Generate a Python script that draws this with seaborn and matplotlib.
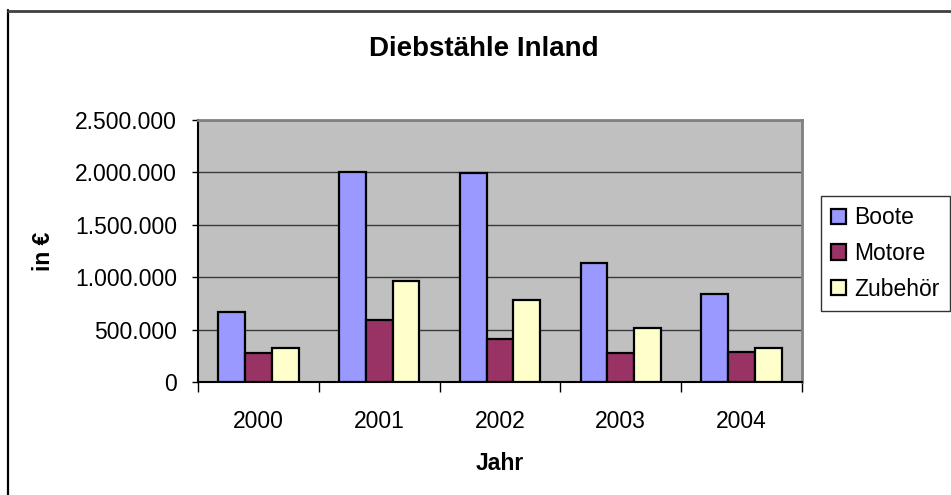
import matplotlib
matplotlib.use("Agg")
import matplotlib.pyplot as plt
import matplotlib.ticker as mticker
from matplotlib.lines import Line2D
import seaborn as sns
import pandas as pd

years = ["2000", "2001", "2002", "2003", "2004"]
boote = [665000, 2000000, 1995000, 1140000, 838000]
motore = [280000, 590000, 410000, 274000, 287000]
zubehoer = [325000, 968000, 780000, 519000, 322000]
series = ["Boote", "Motore", "Zubehör"]
colors = ["#9999FF", "#993366", "#FFFFCC"]
yticks = [0, 500000, 1000000, 1500000, 2000000, 2500000]

rows = []
for name, vals in zip(series, [boote, motore, zubehoer]):
    for y, v in zip(years, vals):
        rows.append({"Jahr": y, "Serie": name, "Wert": v})
df = pd.DataFrame(rows)

sns.set_style("white")
plt.rcParams["font.family"] = ["Liberation Sans", "DejaVu Sans"]
plt.rcParams["text.color"] = "black"
plt.rcParams["xtick.color"] = "black"
plt.rcParams["ytick.color"] = "black"
plt.rcParams["axes.labelcolor"] = "black"

W, H = 951, 495
fig = plt.figure(figsize=(W / 100, H / 100), dpi=100)
ax = fig.add_axes([198 / W, 1 - 382 / H, 604 / W, 262 / H])
ax.set_facecolor("#C0C0C0")

sns.barplot(data=df, x="Jahr", y="Wert", hue="Serie", order=years,
            hue_order=series, palette=colors, width=0.667, gap=0,
            edgecolor="black", linewidth=1.6, saturation=1, ax=ax,
            legend=True, zorder=3)

ax.set_ylim(0, 2500000)
ax.set_xlim(-0.5, 4.5)
ax.set_yticks(yticks)
ax.yaxis.set_major_formatter(mticker.FuncFormatter(lambda v, p: f"{int(v):,}".replace(",", ".")))
ax.grid(axis="y", color="#3a3a3a", linewidth=1.0, zorder=1)
ax.set_axisbelow(True)

# x ticks: marks at category boundaries, labels at centres
ax.set_xticks([-0.5, 0.5, 1.5, 2.5, 3.5, 4.5])
ax.set_xticklabels([])
ax.set_xticks(range(len(years)), minor=True)
ax.set_xticklabels(years, minor=True)
ax.tick_params(axis="x", which="major", direction="out", length=7, width=1, color="black", bottom=True)
ax.tick_params(axis="x", which="minor", length=0, pad=20, labelsize=16.5, labelcolor="black")
ax.tick_params(axis="y", direction="out", length=4, width=1, color="black", left=True, pad=11,
               labelsize=16.5, labelcolor="black")

for s in ["left", "bottom"]:
    ax.spines[s].set_color("black")
    ax.spines[s].set_linewidth(1.5)
for s in ["top", "right"]:
    ax.spines[s].set_color("#808080")
    ax.spines[s].set_linewidth(2)
    ax.spines[s].set_visible(True)

ax.set_xlabel("")
ax.set_ylabel("")

handles, labels = ax.get_legend_handles_labels()
ax.legend_.remove()
leg = fig.legend(handles, labels, loc="upper left",
                 bbox_to_anchor=(821 / W, 1 - 196 / H), bbox_transform=fig.transFigure,
                 borderaxespad=0, frameon=True, fancybox=False, fontsize=16.5,
                 handlelength=0.65, handleheight=0.65, handletextpad=0.35,
                 labelspacing=0.55, borderpad=0.45, edgecolor="black")
leg.get_frame().set_linewidth(1.0)
for t in leg.get_texts():
    t.set_color("black")

fig.text(484 / W, 1 - 49 / H, "Diebstähle Inland", ha="center", va="center",
         fontsize=20, fontweight="bold", color="black")
fig.text(500 / W, 1 - 464 / H, "Jahr", ha="center", va="center",
         fontsize=16.5, fontweight="bold", color="black")
fig.text(43 / W, 1 - 251 / H, "in €", ha="center", va="center", rotation=90,
         fontsize=16.5, fontweight="bold", color="black")

# outer chart border (partly visible)
fig.add_artist(Line2D([8 / W, 8 / W], [1 - 10 / H, 0], transform=fig.transFigure,
                      color="black", linewidth=1.6))
fig.add_artist(Line2D([8 / W, 1], [1 - 10.5 / H, 1 - 10.5 / H], transform=fig.transFigure,
                      color="#404040", linewidth=2.0))

fig.savefig("out.png", dpi=100, facecolor="white")
